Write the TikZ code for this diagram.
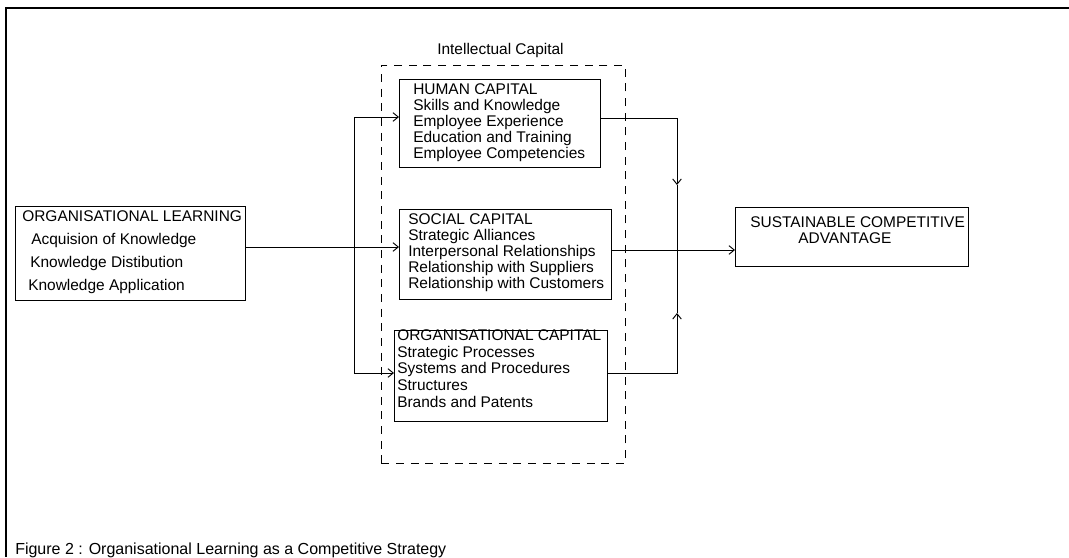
\documentclass[tikz,border=0pt]{standalone}
\usepackage{fontspec}
\setmainfont{Liberation Sans}
\usetikzlibrary{arrows.meta}

\tikzset{
  box/.style={draw, line width=0.7pt, anchor=north west, inner sep=0pt},
  boxtext/.style={anchor=base west, inner sep=0pt, align=left,
    font=\fontsize{11.6}{12}\selectfont},
  link/.style={line width=0.7pt, -{Straight Barb[length=4pt,width=6.5pt]}},
}

\begin{document}
\begin{tikzpicture}[x=0.75pt, y=-0.75pt]
			% Page size (pixels of the reference)
			\useasboundingbox (0,0) rectangle (1069,557);
			
			% Open frame
			\draw[line width=1.2pt] (1069,8) -- (6,8) -- (6,557);
			
			% Intellectual capital group
			\node[box, dashed, dash pattern=on 6pt off 5pt, minimum width=183pt, minimum height=298.5pt] (ic) at (381,65) {};
			\node[boxtext] (ictext) at (437,54) {Intellectual Capital};
			
			% Boxes
			\node[box, minimum width=172.5pt, minimum height=70.5pt] (ol) at (15,206) {};
			\node[box, minimum width=150.75pt, minimum height=66pt] (hc) at (399,79) {};
			\node[box, minimum width=159pt, minimum height=67.5pt] (sc) at (399,209) {};
			\node[box, minimum width=159.75pt, minimum height=68.25pt] (oc) at (394,330) {};
			\node[box, minimum width=174.75pt, minimum height=44.25pt] (sca) at (735,207) {};
			
			% Box texts (placed on the baseline of their last line)
			\node[boxtext, font=\fontsize{11.6}{17.25}\selectfont] (oltext) at (22,290)
			  {ORGANISATIONAL LEARNING\\ \hspace*{6.75pt}Acquision of Knowledge\\ \hspace*{6pt}Knowledge Distibution\\ \hspace*{4.5pt}Knowledge Application};
			\node[boxtext] (hctext) at (413,158)
			  {HUMAN CAPITAL\\ Skills and Knowledge\\ Employee Experience\\ Education and Training\\ Employee Competencies};
			\node[boxtext] (sctext) at (408,288)
			  {SOCIAL CAPITAL\\ Strategic Alliances\\ Interpersonal Relationships\\ Relationship with Suppliers\\ Relationship with Customers};
			\node[boxtext, font=\fontsize{11.6}{12.4}\selectfont] (octext) at (397,407)
			  {ORGANISATIONAL CAPITAL\\ Strategic Processes\\ Systems and Procedures\\ Structures\\ Brands and Patents};
			\node[boxtext] (scatext) at (750,243)
			  {SUSTAINABLE COMPETITIVE\\ \hspace*{36pt}ADVANTAGE};
			
			% Branch and join points
			\coordinate (forkh) at (354,117);
			\coordinate (forks) at (354,247);
			\coordinate (forko) at (354,373);
			\coordinate (joinh) at (677,118);
			\coordinate (joins) at (677,250);
			\coordinate (joino) at (677,373);
			\coordinate (downtip) at (677,185);
			\coordinate (uptip) at (677,313);
			
			% Learning feeds the three capitals
			\draw[link] (ol.east |- forks) -- (sc.west |- forks);
			\draw[link] (forks) |- (hc.west |- forkh);
			\draw[link] (forks) |- (oc.west |- forko);
			
			% Capitals lead to the advantage
			\draw[link] (hc.east |- joinh) -| (downtip);
			\draw[line width=0.7pt] (downtip) -- (uptip);
			\draw[link] (oc.east |- joino) -| (uptip);
			\draw[link] (sc.east |- joins) -- (sca.west |- joins);
			
			% Caption
			\node[anchor=base west, inner sep=0pt, font=\fontsize{12}{14}\selectfont] (caption) at (15,554)
			  {Figure 2 : Organisational Learning as a Competitive Strategy};
			
		\end{tikzpicture}
\end{document}
